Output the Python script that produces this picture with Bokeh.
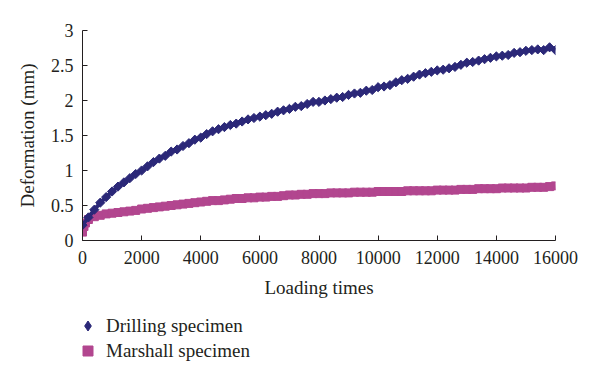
import numpy as np
from bokeh.plotting import figure
from bokeh.layouts import column
from bokeh.models import Range1d, FixedTicker, Legend, LegendItem, ColumnDataSource
from bokeh.embed import file_html
from bokeh.resources import INLINE

# ---- data ----
drill_x = list(range(0, 16001, 200))
drill_y = [0.22, 0.33, 0.44, 0.54, 0.62, 0.70, 0.77, 0.83, 0.89, 0.95,
           1.00, 1.06, 1.12, 1.17, 1.21, 1.27, 1.30, 1.35, 1.39, 1.44,
           1.47, 1.52, 1.56, 1.59, 1.62, 1.65, 1.67, 1.70, 1.73, 1.75,
           1.77, 1.79, 1.81, 1.84, 1.86, 1.88, 1.91, 1.92, 1.95, 1.98,
           1.98, 2.00, 2.02, 2.04, 2.05, 2.08, 2.10, 2.11, 2.14, 2.15,
           2.19, 2.20, 2.22, 2.26, 2.29, 2.31, 2.34, 2.37, 2.39, 2.41,
           2.43, 2.44, 2.46, 2.48, 2.51, 2.54, 2.55, 2.57, 2.59, 2.61,
           2.63, 2.64, 2.65, 2.68, 2.69, 2.71, 2.72, 2.73, 2.72, 2.76,
           2.72]

marsh_x = [0, 50, 100] + list(range(200, 16001, 200))
marsh_y = [0.12, 0.20, 0.25,
           0.30, 0.34, 0.36, 0.38, 0.39, 0.40, 0.41, 0.42, 0.43, 0.45,
           0.46, 0.47, 0.48, 0.49, 0.50, 0.51, 0.52, 0.53, 0.54, 0.55,
           0.56, 0.57, 0.57, 0.58, 0.59, 0.60, 0.60, 0.61, 0.61, 0.62,
           0.62, 0.63, 0.63, 0.64, 0.65, 0.65, 0.66, 0.66, 0.67, 0.67,
           0.67, 0.68, 0.68, 0.68, 0.68, 0.69, 0.69, 0.69, 0.69, 0.70,
           0.70, 0.70, 0.70, 0.70, 0.71, 0.71, 0.71, 0.71, 0.71, 0.72,
           0.72, 0.72, 0.72, 0.73, 0.73, 0.73, 0.74, 0.74, 0.74, 0.74,
           0.75, 0.75, 0.75, 0.75, 0.75, 0.76, 0.76, 0.76, 0.77, 0.78,
           0.80]

x_ticks = [0, 2000, 4000, 6000, 8000, 10000, 12000, 14000, 16000]
x_tick_labels = ["0", "2000", "4000", "6000", "8000", "10000", "12000", "14000", "16000"]
y_ticks = [0, 0.5, 1, 1.5, 2, 2.5, 3]
y_tick_labels = ["0", "0.5", "1", "1.5", "2", "2.5", "3"]

series_names = ["Drilling specimen", "Marshall specimen"]
DRILL_COLOR = "#2b2878"
MARSH_COLOR = "#b2468f"
FONT = "Liberation Serif"
TEXT_COLOR = "#231f20"

p = figure(width=585, height=310, output_backend="svg", toolbar_location=None,
           x_range=Range1d(0, 16000), y_range=Range1d(0, 3),
           min_border_left=82, min_border_right=30, min_border_top=30,
           min_border_bottom=70)
p.outline_line_color = None
p.grid.visible = False

ds_d = ColumnDataSource(dict(x=drill_x, y=drill_y))
ds_m = ColumnDataSource(dict(x=marsh_x, y=marsh_y))

p.line("x", "y", source=ds_m, line_color=MARSH_COLOR, line_width=7)
p.scatter("x", "y", source=ds_m, marker="square", size=8,
          fill_color=MARSH_COLOR, line_color=MARSH_COLOR)
p.line("x", "y", source=ds_d, line_color=DRILL_COLOR, line_width=4)
p.scatter("x", "y", source=ds_d, marker="square", size=6.5, angle=np.pi / 4,
          fill_color=DRILL_COLOR, line_color=DRILL_COLOR)

for ax in (p.xaxis[0], p.yaxis[0]):
    ax.major_tick_in = 5
    ax.major_tick_out = 0
    ax.minor_tick_line_color = None
    ax.axis_line_color = TEXT_COLOR
    ax.major_tick_line_color = TEXT_COLOR
    ax.major_label_text_font = FONT
    ax.major_label_text_font_size = "18px"
    ax.major_label_text_color = TEXT_COLOR
    ax.axis_label_text_font = FONT
    ax.axis_label_text_font_size = "19px"
    ax.axis_label_text_font_style = "normal"
    ax.axis_label_text_color = TEXT_COLOR

p.xaxis[0].ticker = FixedTicker(ticks=x_ticks)
p.xaxis[0].major_label_overrides = {t: l for t, l in zip(x_ticks, x_tick_labels)}
p.yaxis[0].ticker = FixedTicker(ticks=y_ticks)
p.yaxis[0].major_label_overrides = {t: l for t, l in zip(y_ticks, y_tick_labels)}
p.xaxis[0].axis_label = "Loading times"
p.yaxis[0].axis_label = "Deformation (mm)"
p.xaxis[0].major_label_standoff = 10
p.yaxis[0].major_label_standoff = 9
p.xaxis[0].axis_label_standoff = 10
p.yaxis[0].axis_label_standoff = 10

# ---- legend panel below the chart (series drawn out of view, only legend shows) ----
lg = figure(width=585, height=71, output_backend="svg", toolbar_location=None,
            x_axis_type=None, y_axis_type=None,
            x_range=Range1d(-100000, -90000), y_range=Range1d(10, 11),
            min_border_left=0, min_border_right=0, min_border_top=0,
            min_border_bottom=0)
lg.grid.visible = False
lg.outline_line_color = None
ld = lg.scatter("x", "y", source=ds_d, marker="diamond", size=8,
                fill_color=DRILL_COLOR, line_color=DRILL_COLOR)
lm = lg.scatter("x", "y", source=ds_m, marker="square", size=8,
                fill_color=MARSH_COLOR, line_color=MARSH_COLOR)
legend = Legend(items=[LegendItem(label=series_names[0], renderers=[ld]),
                       LegendItem(label=series_names[1], renderers=[lm])],
                location=(-7, 18), orientation="vertical",
                glyph_width=25, glyph_height=25, label_height=25, spacing=0,
                padding=0, margin=0, label_standoff=6,
                label_text_font=FONT, label_text_font_size="19px",
                label_text_color=TEXT_COLOR,
                background_fill_alpha=0, border_line_color=None)
lg.add_layout(legend, "center")

layout = column(p, lg, spacing=0)
open("out.html", "w").write(file_html(layout, INLINE))
